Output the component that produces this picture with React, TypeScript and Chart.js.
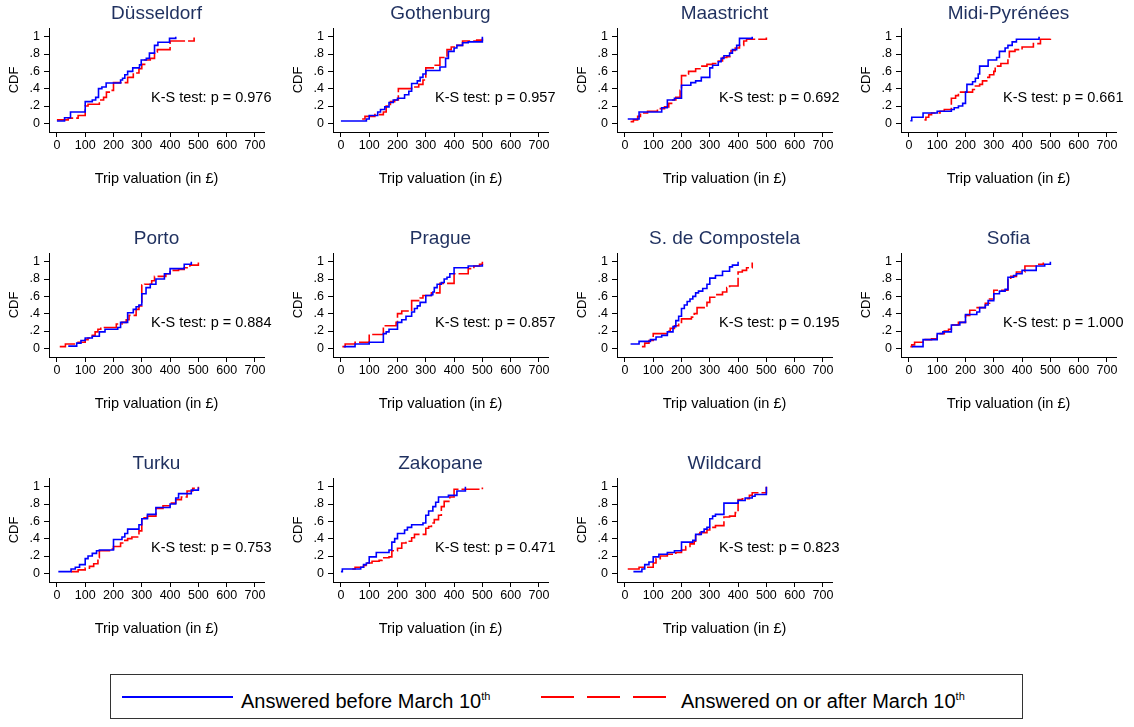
import React, { useEffect, useRef } from 'react';
import { Chart, registerables } from 'chart.js';

Chart.register(...registerables);

const cities = ['Düsseldorf', 'Gothenburg', 'Maastricht', 'Midi-Pyrénées', 'Porto', 'Prague', 'S. de Compostela', 'Sofia', 'Turku', 'Zakopane', 'Wildcard'];
const ksPValues = ['0.976', '0.957', '0.692', '0.661', '0.884', '0.857', '0.195', '1.000', '0.753', '0.471', '0.823'];
const xTicks = [0, 100, 200, 300, 400, 500, 600, 700];
const yTicks = [0, 0.2, 0.4, 0.6, 0.8, 1];
const yTickLabels = ['0', '.2', '.4', '.6', '.8', '1'];
const seriesLabels = ['Answered before March 10', 'Answered on or after March 10'];

// [valuation, cumulative share] pairs
const dusBefore = [[0, .027], [27, .065], [48, .13], [100, .25], [125, .27], [137, .30], [147, .40], [159, .42], [174, .465], [225, .50], [232, .52], [240, .56], [250, .60], [268, .64], [292, .675], [298, .73], [316, .75], [327, .81], [345, .90], [357, .935], [398, .98], [420, 1]];
const dusAfter = [[0, .04], [40, .06], [75, .09], [100, .2], [110, .22], [150, .27], [165, .3], [175, .36], [185, .38], [200, .47], [250, .53], [270, .58], [290, .63], [300, .68], [310, .73], [330, .75], [345, .82], [355, .85], [400, .95], [485, .99]];
const gotBefore = [[0, .027], [90, .05], [100, .09], [130, .13], [140, .16], [155, .19], [170, .24], [185, .27], [200, .29], [225, .33], [240, .37], [250, .46], [270, .49], [280, .53], [290, .57], [300, .61], [350, .65], [370, .75], [380, .83], [400, .87], [410, .9], [430, .93], [450, .94], [500, 1]];
const gotAfter = [[75, .05], [85, .08], [120, .1], [150, .13], [160, .2], [175, .25], [190, .27], [203, .4], [250, .42], [275, .45], [290, .5], [300, .64], [330, .67], [350, .76], [375, .85], [390, .88], [410, .9], [430, .95], [480, .96], [500, .98]];
const maaBefore = [[10, .05], [50, .13], [130, .18], [150, .27], [175, .29], [200, .44], [233, .47], [250, .49], [270, .53], [300, .64], [310, .67], [330, .71], [340, .75], [350, .78], [370, .81], [380, .85], [395, .9], [405, .98], [450, 1]];
const maaAfter = [[20, .02], [30, .04], [45, .08], [55, .12], [80, .14], [115, .17], [140, .19], [155, .23], [165, .27], [180, .3], [195, .38], [200, .55], [215, .57], [225, .6], [250, .63], [265, .66], [290, .68], [310, .69], [330, .72], [345, .76], [360, .77], [375, .84], [390, .87], [405, .9], [420, .95], [430, .97], [500, .99]];
const midBefore = [[5, .03], [10, .07], [50, .12], [100, .14], [150, .16], [160, .18], [175, .2], [190, .23], [200, .36], [205, .45], [225, .48], [235, .52], [245, .57], [250, .66], [280, .73], [310, .76], [320, .83], [340, .87], [350, .9], [365, .94], [380, .97], [460, 1]];
const midAfter = [[55, .04], [60, .07], [70, .1], [80, .12], [110, .14], [125, .16], [150, .29], [165, .32], [175, .36], [225, .39], [235, .43], [250, .45], [260, .49], [275, .53], [285, .56], [300, .6], [305, .66], [325, .69], [350, .75], [355, .83], [375, .85], [400, .88], [440, .92], [465, .97], [500, .99]];
const porBefore = [[40, .025], [70, .06], [85, .09], [100, .12], [125, .14], [150, .19], [170, .22], [215, .24], [225, .3], [250, .41], [270, .45], [280, .48], [290, .5], [300, .63], [315, .7], [330, .74], [350, .8], [380, .86], [400, .92], [450, .97], [475, 1]];
const porAfter = [[10, .02], [30, .05], [75, .07], [100, .1], [110, .12], [125, .15], [135, .19], [145, .22], [155, .24], [210, .28], [230, .3], [245, .33], [255, .38], [280, .45], [290, .49], [300, .73], [310, .74], [335, .78], [345, .83], [385, .86], [400, .9], [430, .91], [450, .93], [470, .96], [500, .99]];
const praBefore = [[10, .02], [50, .05], [100, .07], [150, .17], [160, .19], [170, .22], [200, .3], [215, .33], [230, .37], [250, .42], [260, .46], [270, .49], [280, .53], [300, .61], [320, .62], [325, .65], [330, .7], [340, .74], [355, .76], [365, .8], [375, .82], [385, .86], [400, .93], [450, .95], [500, .97]];
const praAfter = [[5, .02], [15, .05], [50, .07], [100, .16], [150, .26], [195, .3], [200, .4], [215, .43], [250, .55], [280, .58], [290, .61], [320, .64], [350, .75], [400, .86], [450, .92], [470, .95], [490, .97], [500, 1]];
const sdcBefore = [[20, .05], [50, .08], [90, .1], [110, .13], [130, .15], [150, .19], [170, .25], [180, .32], [190, .37], [200, .46], [210, .5], [220, .54], [230, .57], [240, .6], [250, .64], [260, .66], [275, .69], [290, .74], [300, .81], [320, .84], [345, .89], [370, .94], [380, .96], [400, 1]];
const sdcAfter = [[60, .02], [70, .06], [85, .09], [100, .17], [150, .2], [160, .23], [175, .26], [190, .3], [200, .34], [235, .36], [245, .4], [255, .47], [280, .49], [290, .53], [300, .59], [325, .62], [345, .65], [360, .7], [370, .72], [400, .88], [415, .9], [430, .93], [450, .99]];
const sofBefore = [[10, .02], [50, .1], [100, .17], [120, .19], [150, .27], [180, .3], [200, .39], [240, .42], [250, .47], [270, .5], [280, .55], [300, .63], [320, .66], [340, .68], [350, .82], [370, .84], [380, .86], [400, .9], [450, .95], [480, .97], [500, 1]];
const sofAfter = [[5, .02], [10, .04], [20, .07], [50, .1], [80, .11], [100, .17], [125, .2], [140, .22], [150, .27], [175, .3], [200, .38], [215, .44], [235, .47], [270, .52], [285, .57], [300, .67], [350, .81], [360, .83], [380, .88], [410, .95], [450, .97], [475, .99]];
const turBefore = [[5, .02], [50, .05], [65, .07], [80, .1], [100, .17], [110, .2], [125, .23], [140, .26], [150, .27], [200, .39], [230, .42], [240, .46], [250, .51], [290, .56], [300, .63], [320, .68], [350, .76], [400, .8], [420, .87], [430, .92], [475, .96], [500, .99]];
const turAfter = [[50, .02], [75, .04], [100, .06], [115, .08], [130, .11], [145, .18], [150, .26], [190, .28], [200, .31], [225, .35], [240, .38], [250, .4], [265, .42], [290, .49], [300, .64], [320, .66], [350, .75], [375, .78], [400, .81], [420, .85], [440, .88], [460, .95], [480, .98], [500, 1]];
const zakBefore = [[0, .02], [5, .05], [70, .07], [80, .1], [90, .12], [100, .19], [125, .24], [170, .27], [180, .36], [190, .4], [200, .46], [225, .5], [235, .53], [250, .56], [290, .58], [300, .67], [310, .72], [325, .77], [335, .82], [345, .88], [380, .9], [410, .95], [440, 1]];
const zakAfter = [[40, .05], [50, .07], [80, .09], [95, .12], [110, .14], [135, .15], [145, .18], [170, .19], [180, .26], [200, .29], [215, .35], [230, .37], [250, .41], [260, .45], [300, .52], [310, .54], [320, .58], [330, .62], [345, .67], [355, .77], [365, .83], [385, .88], [400, .97], [500, .99]];
const wilBefore = [[30, .02], [60, .05], [70, .1], [85, .13], [100, .19], [120, .22], [150, .24], [175, .26], [200, .36], [240, .38], [250, .45], [270, .48], [280, .51], [290, .53], [300, .63], [310, .66], [320, .68], [350, .81], [400, .84], [425, .87], [450, .89], [460, .91], [500, 1]];
const wilAfter = [[10, .05], [50, .07], [100, .12], [110, .17], [125, .2], [150, .22], [180, .24], [200, .27], [215, .31], [230, .34], [245, .37], [250, .45], [265, .47], [290, .5], [300, .53], [320, .55], [350, .65], [370, .66], [390, .7], [400, .85], [415, .86], [440, .9], [450, .93], [500, 1]];

const beforeSeries = [dusBefore, gotBefore, maaBefore, midBefore, porBefore, praBefore, sdcBefore, sofBefore, turBefore, zakBefore, wilBefore];
const afterSeries = [dusAfter, gotAfter, maaAfter, midAfter, porAfter, praAfter, sdcAfter, sofAfter, turAfter, zakAfter, wilAfter];

const FONT = '"Liberation Sans", Arial, Helvetica, sans-serif';
const PANEL_W = 284;
const PANEL_H = 225;

const panelText = {
  id: 'panelText',
  afterDraw(chart: any, _args: any, opts: any) {
    const ctx = chart.ctx;
    const area = chart.chartArea;
    ctx.save();
    ctx.fillStyle = '#1f305f';
    ctx.font = `19px ${FONT}`;
    ctx.textAlign = 'center';
    ctx.textBaseline = 'middle';
    ctx.fillText(opts.title, (area.left + area.right) / 2, 14);
    ctx.fillStyle = '#000';
    ctx.font = `14.5px ${FONT}`;
    ctx.textAlign = 'left';
    ctx.fillText(`K-S test: p = ${opts.p}`, 151, 97.5);
    ctx.restore();
  },
};

function Panel({ idx }: { idx: number }) {
  const ref = useRef<HTMLCanvasElement | null>(null);
  useEffect(() => {
    const toPts = (arr: number[][]) => arr.map(([x, y]) => ({ x, y }));
    const chart = new Chart(ref.current as HTMLCanvasElement, {
      type: 'line',
      data: {
        datasets: [
          {
            label: seriesLabels[0],
            data: toPts(beforeSeries[idx]),
            borderColor: '#0000ff',
            borderWidth: 1.6,
            stepped: true,
            pointRadius: 0,
            fill: false,
          },
          {
            label: seriesLabels[1],
            data: toPts(afterSeries[idx]),
            borderColor: '#ff0000',
            borderWidth: 1.6,
            borderDash: [18, 3],
            stepped: true,
            pointRadius: 0,
            fill: false,
          },
        ],
      } as any,
      options: {
        animation: false,
        responsive: false,
        maintainAspectRatio: false,
        layout: { padding: { left: 0, top: 28, right: 20, bottom: 0 } },
        plugins: {
          legend: { display: false },
          tooltip: { enabled: false },
          panelText: { title: cities[idx], p: ksPValues[idx] },
        } as any,
        scales: {
          x: {
            type: 'linear',
            min: -28,
            max: 732,
            afterBuildTicks: (s: any) => { s.ticks = xTicks.map((v) => ({ value: v })); },
            afterFit: (s: any) => { s.height = PANEL_H - 132; },
            grid: { display: true, drawOnChartArea: false, drawTicks: true, tickLength: 5, color: '#000', lineWidth: 1 },
            border: { display: true, color: '#000', width: 1 },
            ticks: { color: '#000', font: { family: FONT, size: 12.5 }, padding: 1, maxRotation: 0, autoSkip: false },
            title: { display: true, text: 'Trip valuation (in £)', color: '#000', font: { family: FONT, size: 14.5 }, padding: { top: 0, bottom: 37 } },
          },
          y: {
            type: 'linear',
            min: -0.1,
            max: 1.1,
            afterBuildTicks: (s: any) => { s.ticks = yTicks.map((v) => ({ value: v })); },
            afterFit: (s: any) => { s.width = 49; },
            grid: { display: true, drawOnChartArea: false, drawTicks: true, tickLength: 5, color: '#000', lineWidth: 1 },
            border: { display: true, color: '#000', width: 1 },
            ticks: { color: '#000', font: { family: FONT, size: 12.5 }, padding: 4, autoSkip: false, callback: (_v: any, i: number) => yTickLabels[i] },
            title: { display: true, text: 'CDF', color: '#000', font: { family: FONT, size: 13 }, padding: { top: 7, bottom: 0 } },
          },
        },
      } as any,
      plugins: [panelText as any],
    });
    return () => chart.destroy();
  }, [idx]);
  const col = idx % 4;
  const row = Math.floor(idx / 4);
  return (
    <canvas
      ref={ref}
      width={PANEL_W}
      height={PANEL_H}
      style={{ position: 'absolute', left: col * PANEL_W, top: row * PANEL_H, width: PANEL_W, height: PANEL_H }}
    />
  );
}

function Legend() {
  const textStyle: React.CSSProperties = {
    position: 'absolute',
    top: 9,
    fontFamily: FONT,
    fontSize: 20,
    color: '#000',
    whiteSpace: 'nowrap',
    lineHeight: '24px',
  };
  return (
    <div style={{ position: 'absolute', left: 110, top: 674, width: 911, height: 43, border: '1px solid #333', background: '#fff' }}>
      <div style={{ position: 'absolute', left: 11, top: 21, width: 111, height: 2, background: '#0000ff' }} />
      <div style={{ ...textStyle, left: 130 }}>
        {seriesLabels[0]}<sup style={{ fontSize: 11 }}>th</sup>
      </div>
      <div
        style={{
          position: 'absolute', left: 430, top: 21, width: 125, height: 2,
          background: 'repeating-linear-gradient(to right, #ff0000 0px, #ff0000 33px, transparent 33px, transparent 46px)',
        }}
      />
      <div style={{ ...textStyle, left: 570 }}>
        {seriesLabels[1]}<sup style={{ fontSize: 11 }}>th</sup>
      </div>
    </div>
  );
}

export default function App() {
  return (
    <div style={{ position: 'absolute', left: 0, top: 0, width: 1134, height: 727, background: '#fff' }}>
      {cities.map((_c, i) => (
        <Panel key={i} idx={i} />
      ))}
      <Legend />
    </div>
  );
}
